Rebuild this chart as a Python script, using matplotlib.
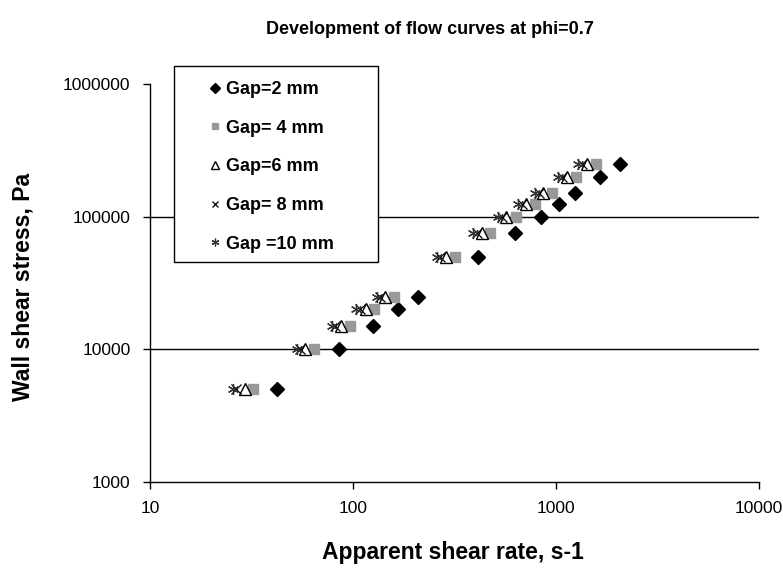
import matplotlib
matplotlib.use("Agg")
import matplotlib.pyplot as plt
from matplotlib.patches import Rectangle

plt.rcParams["font.family"] = ["Liberation Sans", "DejaVu Sans"]

# Wall shear stress levels (Pa), shared by all gap series
stress = [5000, 10000, 15000, 20000, 25000, 50000, 75000, 100000, 125000, 150000, 200000, 250000]

# Apparent shear rate (s-1) for each gap
rate_gap2 = [42, 85, 126, 167, 208, 414, 628, 841, 1038, 1241, 1647, 2066]
rate_gap4 = [32, 64.5, 97, 127, 160, 318, 473, 635, 788, 952, 1250, 1574]
rate_gap6 = [29.4, 58, 87, 116, 144, 287, 430, 567, 711, 860, 1137, 1416]
rate_gap8 = [26.6, 55, 81.5, 108.5, 136, 268, 406, 541, 678, 820, 1067, 1340]
rate_gap10 = [25.6, 52.8, 78.5, 104, 131, 258, 391, 520, 652, 788, 1026, 1288]

labels = ["Gap=2 mm", "Gap= 4 mm", "Gap=6 mm", "Gap= 8 mm", "Gap =10 mm"]

W, H = 783, 568
fig = plt.figure(figsize=(W / 100, H / 100), dpi=100)
ax = fig.add_axes([150 / W, 1 - 482 / H, (759 - 150) / W, (482 - 84) / H])

ax.set_xscale("log")
ax.set_yscale("log")
ax.set_xlim(10, 10000)
ax.set_ylim(1000, 1000000)

# inner gridlines only
for yv in [10000, 100000]:
    ax.axhline(yv, color="black", lw=1, zorder=1)

ax.plot(rate_gap2, stress, ls="none", marker="D", ms=7, color="black", label=labels[0], zorder=3)
ax.plot(rate_gap4, stress, ls="none", marker="s", ms=7, color="#999999", label=labels[1], zorder=3)
ax.plot(rate_gap6, stress, ls="none", marker="^", ms=8, mfc="white", mec="black", mew=1,
        label=labels[2], zorder=3)
ax.plot(rate_gap8, stress, ls="none", marker="x", ms=6.5, color="black", mew=0.9, label=labels[3], zorder=3)
ax.plot(rate_gap10, stress, ls="none", marker=(6, 2, 0), ms=8, color="#333333", mew=0.9,
        label=labels[4], zorder=3)

ax.set_xticks([10, 100, 1000, 10000])
ax.set_xticklabels(["10", "100", "1000", "10000"])
ax.set_yticks([1000, 10000, 100000, 1000000])
ax.set_yticklabels(["1000", "10000", "100000", "1000000"])
ax.minorticks_off()
ax.tick_params(axis="both", direction="out", length=5, width=1, color="black",
               labelsize=12.5, pad=9)

for side in ["top", "right"]:
    ax.spines[side].set_visible(False)
for side in ["left", "bottom"]:
    ax.spines[side].set_linewidth(1)
    ax.spines[side].set_color("black")

# legend box drawn separately so the frame matches the original size
box = Rectangle((174 / W, 1 - 262 / H), (378 - 174) / W, (262 - 66) / H,
                transform=fig.transFigure, facecolor="white", edgecolor="black",
                lw=1, clip_on=False, zorder=4)
ax.add_patch(box)
leg = ax.legend(loc="upper left", bbox_to_anchor=(208 / W, 1 - 81 / H),
                bbox_transform=fig.transFigure, frameon=False, borderpad=0,
                borderaxespad=0, handlelength=0.8, handletextpad=0.2,
                labelspacing=1.2, markerscale=0.7,
                prop={"size": 13, "weight": "bold"})
leg.set_zorder(5)

fig.text(430 / W, 1 - 30 / H, "Development of flow curves at phi=0.7",
         ha="center", va="center", fontsize=13, fontweight="bold")
fig.text(453 / W, 1 - 553 / H, "Apparent shear rate, s-1",
         ha="center", va="center", fontsize=16.5, fontweight="bold")
fig.text(23 / W, 1 - 287 / H, "Wall shear stress, Pa", rotation=90,
         ha="center", va="center", fontsize=16.5, fontweight="bold")

fig.savefig("out.png", dpi=100)
